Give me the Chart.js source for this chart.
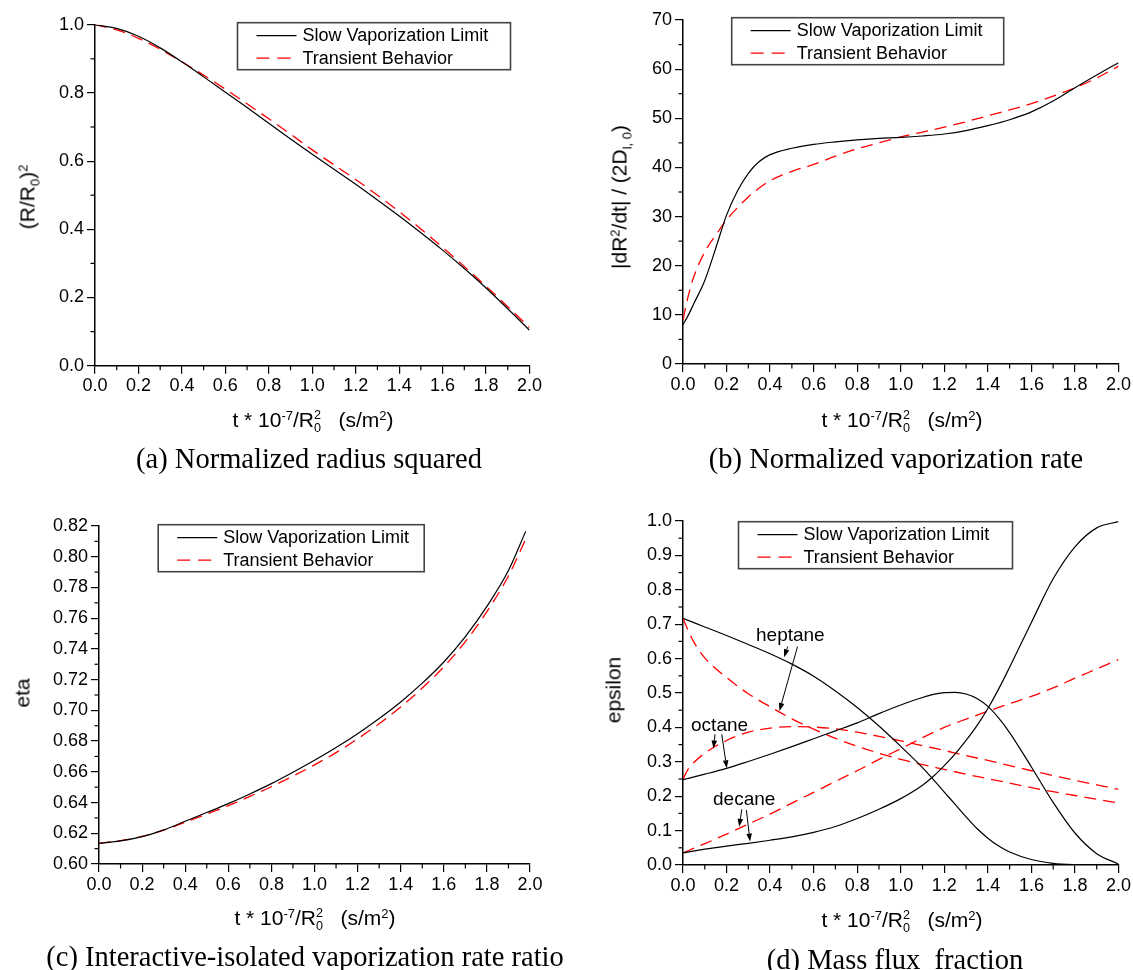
<!DOCTYPE html>
<html><head><meta charset="utf-8">
<script src="https://cdn.jsdelivr.net/npm/chart.js@4.4.1/dist/chart.umd.min.js"></script>
<style>
html,body{margin:0;padding:0;background:#fff;}
#wrap{position:relative;width:1133px;height:970px;overflow:hidden;background:#fff;}
canvas{position:absolute;left:0;top:0;}
.t{position:absolute;font-family:"Liberation Sans",Arial,sans-serif;font-size:21px;color:#000;white-space:nowrap;transform:translate(-50%,-50%);line-height:1;}
.r{transform:translate(-50%,-50%) rotate(-90deg);}
.cap{position:absolute;font-family:"Liberation Serif","Times New Roman",serif;font-size:28.5px;color:#000;white-space:nowrap;transform:translate(-50%,-50%);line-height:1;}
.sup{font-size:0.62em;vertical-align:0.55em;line-height:0;}
.sub{font-size:0.62em;vertical-align:-0.35em;line-height:0;}
.ss{display:inline-block;font-size:0.6em;line-height:1;vertical-align:-0.4em;text-align:left;}
</style>
</head><body>
<div id="wrap">
<canvas id="ca" width="1133" height="970"></canvas>
<canvas id="cb" width="1133" height="970"></canvas>
<canvas id="cc" width="1133" height="970"></canvas>
<canvas id="cd" width="1133" height="970"></canvas>

<div class="t r" style="left:27px;top:197px">(R/R<span class="sub">0</span>)<span class="sup">2</span></div>
<div class="t" style="left:313px;top:422px">t * 10<span class="sup">-7</span>/R<span class="ss">2<br>0</span>&nbsp;&nbsp; (s/m<span class="sup">2</span>)</div>
<div class="cap" style="left:309px;top:459px">(a) Normalized radius squared</div>

<div class="t r" style="left:619px;top:197px">|dR<span class="sup">2</span>/dt| / (2D<span class="sub">l, 0</span>)</div>
<div class="t" style="left:902px;top:422px">t * 10<span class="sup">-7</span>/R<span class="ss">2<br>0</span>&nbsp;&nbsp; (s/m<span class="sup">2</span>)</div>
<div class="cap" style="left:896px;top:459px">(b) Normalized vaporization rate</div>

<div class="t r" style="left:22px;top:693px">eta</div>
<div class="t" style="left:315px;top:920px">t * 10<span class="sup">-7</span>/R<span class="ss">2<br>0</span>&nbsp;&nbsp; (s/m<span class="sup">2</span>)</div>
<div class="cap" style="left:305px;top:957px">(c) Interactive-isolated vaporization rate ratio</div>

<div class="t r" style="left:613px;top:690px">epsilon</div>
<div class="t" style="left:902px;top:922px">t * 10<span class="sup">-7</span>/R<span class="ss">2<br>0</span>&nbsp;&nbsp; (s/m<span class="sup">2</span>)</div>
<div class="cap" style="left:895px;top:960px">(d) Mass flux&nbsp; fraction</div>
</div>
<script>
// ---------------- DATA ----------------
const LEGEND_LABELS = ['Slow Vaporization Limit', 'Transient Behavior'];

const X_TICKS = [0,0.2,0.4,0.6,0.8,1.0,1.2,1.4,1.6,1.8,2.0];
const X_MINOR = [0.1,0.3,0.5,0.7,0.9,1.1,1.3,1.5,1.7,1.9];

// (a) normalized radius squared
const A_Y_TICKS = [0,0.2,0.4,0.6,0.8,1.0];
const A_Y_MINOR = [0.1,0.3,0.5,0.7,0.9];
const T_A = [0,0.1,0.2,0.3,0.4,0.5,0.6,0.7,0.8,0.9,1.0,1.1,1.2,1.3,1.4,1.5,1.6,1.7,1.8,1.9,2.0];
const A_SLOW = [1.000,0.989,0.966,0.932,0.891,0.847,0.802,0.757,0.711,0.665,0.620,0.576,0.532,0.486,0.439,0.390,0.339,0.285,0.228,0.167,0.104];
const A_TRANS = [1.000,0.985,0.960,0.928,0.891,0.852,0.811,0.768,0.724,0.679,0.633,0.589,0.546,0.500,0.452,0.401,0.347,0.291,0.233,0.173,0.112];

// (b) normalized vaporization rate
const B_Y_TICKS = [0,10,20,30,40,50,60,70];
const B_Y_MINOR = [5,15,25,35,45,55,65];
const T_B = [0,0.025,0.05,0.1,0.15,0.2,0.25,0.3,0.35,0.4,0.5,0.6,0.7,0.8,0.9,1.0,1.1,1.2,1.3,1.4,1.5,1.6,1.7,1.8,1.9,2.0];
const B_SLOW = [8.0,10.0,12.3,17.0,23.5,30.3,35.2,38.8,41.2,42.6,43.9,44.7,45.2,45.6,45.9,46.1,46.4,46.8,47.5,48.5,49.7,51.3,53.5,56.2,58.8,61.3];
const B_TRANS = [9.0,14.0,17.8,22.8,26.2,29.3,31.8,34.0,35.8,37.3,39.2,40.6,42.3,43.8,45.0,46.2,47.2,48.2,49.3,50.5,51.7,53.0,54.5,56.2,58.2,60.6];

// (c) interactive-isolated vaporization rate ratio
const C_Y_TICKS = [0.60,0.62,0.64,0.66,0.68,0.70,0.72,0.74,0.76,0.78,0.80,0.82];
const C_Y_MINOR = [0.61,0.63,0.65,0.67,0.69,0.71,0.73,0.75,0.77,0.79,0.81];
const T_C = [0,0.1,0.2,0.3,0.4,0.5,0.6,0.7,0.8,0.9,1.0,1.1,1.2,1.3,1.4,1.5,1.6,1.7,1.8,1.9,1.98];
const C_SLOW = [0.6135,0.6150,0.6178,0.6222,0.6278,0.6335,0.6393,0.6456,0.6523,0.6597,0.6675,0.6758,0.6848,0.6947,0.7055,0.7177,0.7315,0.7480,0.7677,0.7910,0.8165];
const C_TRANS = [0.6135,0.6152,0.6180,0.6220,0.6272,0.6325,0.6380,0.6440,0.6503,0.6572,0.6645,0.6725,0.6815,0.6913,0.7022,0.7145,0.7283,0.7448,0.7643,0.7875,0.8115];

// (d) mass flux fraction
const D_Y_TICKS = [0,0.1,0.2,0.3,0.4,0.5,0.6,0.7,0.8,0.9,1.0];
const D_Y_MINOR = [0.05,0.15,0.25,0.35,0.45,0.55,0.65,0.75,0.85,0.95];
const T_D = [0,0.1,0.2,0.3,0.4,0.5,0.6,0.7,0.8,0.9,1.0,1.1,1.15,1.2,1.25,1.3,1.35,1.4,1.45,1.5,1.6,1.7,1.8,1.9,2.0];
const D_HEPTANE_SLOW = [0.717,0.692,0.667,0.641,0.614,0.584,0.549,0.506,0.458,0.404,0.345,0.283,0.248,0.212,0.176,0.140,0.106,0.078,0.055,0.038,0.016,0.005,0.001,0.000,0.000];
const D_OCTANE_SLOW  = [0.248,0.264,0.281,0.301,0.322,0.344,0.367,0.390,0.413,0.440,0.465,0.487,0.496,0.501,0.502,0.497,0.484,0.461,0.427,0.385,0.285,0.182,0.093,0.033,0.003];
const D_DECANE_SLOW  = [0.035,0.046,0.055,0.063,0.072,0.082,0.095,0.112,0.135,0.162,0.193,0.232,0.258,0.289,0.323,0.362,0.405,0.455,0.512,0.575,0.705,0.832,0.925,0.980,0.998];
const T_D_FINE = [0,0.025,0.05,0.1,0.2,0.3,0.4,0.5,0.6,0.7,0.8,0.9,1.0,1.1,1.2,1.3,1.4,1.5,1.6,1.7,1.8,1.9,2.0];
const D_HEPTANE_TRANS = [0.717,0.680,0.648,0.602,0.545,0.498,0.460,0.425,0.395,0.368,0.345,0.325,0.307,0.292,0.278,0.264,0.251,0.238,0.225,0.213,0.202,0.191,0.180];
const D_OCTANE_TRANS  = [0.250,0.280,0.298,0.325,0.362,0.386,0.398,0.402,0.401,0.396,0.386,0.374,0.361,0.347,0.333,0.318,0.304,0.289,0.274,0.260,0.246,0.233,0.220];
const D_DECANE_TRANS  = [0.035,0.042,0.049,0.062,0.090,0.119,0.148,0.180,0.211,0.243,0.274,0.307,0.338,0.370,0.400,0.424,0.447,0.469,0.490,0.515,0.543,0.570,0.597];

const D_LABELS = ['heptane','octane','decane'];
// annotation anchor points in data units: label centre, and two arrows (from -> tip)
const D_LABEL_POS = [[0.493,0.666],[0.168,0.405],[0.281,0.189]];
const D_ARROWS = [
  [[0.481,0.635],[0.464,0.604]], [[0.526,0.635],[0.443,0.448]],
  [[0.147,0.380],[0.140,0.339]], [[0.178,0.380],[0.201,0.281]],
  [[0.270,0.162],[0.258,0.111]], [[0.291,0.160],[0.308,0.068]]
];

// ---------------- RENDERING ----------------
const FONT = '"Liberation Sans", Arial, sans-serif';
const W = 1133, H = 970, YW = 70, XH = 40;

function pts(xs, ys){ return xs.map((x,i)=>({x:x, y:ys[i]})); }
function solid(xs, ys){ return {data:pts(xs,ys), borderColor:'#000', borderWidth:1.2, pointRadius:0, fill:false, cubicInterpolationMode:'monotone'}; }
function dashed(xs, ys){ return {data:pts(xs,ys), borderColor:'#ff0000', borderWidth:1.3, borderDash:[12,7], pointRadius:0, fill:false, cubicInterpolationMode:'monotone'}; }

function axis(ticksArr, dec, isX){
  return {
    type:'linear', min:ticksArr[0], max:ticksArr[ticksArr.length-1],
    afterBuildTicks: s => { s.ticks = ticksArr.map(v=>({value:v})); },
    afterFit: s => { if (isX) s.height = XH; else s.width = YW; },
    ticks:{ callback: v => Number(v).toFixed(dec), font:{family:FONT, size:18}, color:'#000', padding: isX?2:3, maxRotation:0, autoSkip:false },
    grid:{ drawOnChartArea:false, drawTicks:true, tickLength:8, color:'#000', lineWidth:1.2 },
    border:{ display:true, color:'#000', width:1.5 }
  };
}

const minorTicks = {
  id:'minorTicks',
  afterDraw(chart, args, o){
    const ctx = chart.ctx, xs = chart.scales.x, ys = chart.scales.y, a = chart.chartArea;
    ctx.save(); ctx.strokeStyle = '#000'; ctx.lineWidth = 1.2;
    (o.x||[]).forEach(v=>{ const p = xs.getPixelForValue(v); ctx.beginPath(); ctx.moveTo(p, a.bottom); ctx.lineTo(p, a.bottom+4.5); ctx.stroke(); });
    (o.y||[]).forEach(v=>{ const p = ys.getPixelForValue(v); ctx.beginPath(); ctx.moveTo(a.left, p); ctx.lineTo(a.left-4.5, p); ctx.stroke(); });
    ctx.restore();
  }
};

const boxLegend = {
  id:'boxLegend',
  afterDraw(chart, args, o){
    if (!o || o.dx === undefined) return;
    const ctx = chart.ctx, a = chart.chartArea;
    const L = a.left + o.dx, T = a.top + o.dy;
    ctx.save();
    ctx.fillStyle = '#fff'; ctx.fillRect(L, T, o.w, 47);
    ctx.strokeStyle = '#444'; ctx.lineWidth = 1.6; ctx.strokeRect(L, T, o.w, 47);
    const rows = [T+13, T+35.5];
    ctx.lineWidth = 1.2; ctx.strokeStyle = '#000'; ctx.setLineDash([]);
    ctx.beginPath(); ctx.moveTo(L+19, rows[0]); ctx.lineTo(L+59, rows[0]); ctx.stroke();
    ctx.strokeStyle = '#ff0000'; ctx.lineWidth = 1.3; ctx.setLineDash([13,8]);
    ctx.beginPath(); ctx.moveTo(L+19, rows[1]); ctx.lineTo(L+59, rows[1]); ctx.stroke();
    ctx.setLineDash([]);
    ctx.fillStyle = '#000'; ctx.font = '18px ' + FONT; ctx.textBaseline = 'middle'; ctx.textAlign = 'left';
    ctx.fillText(LEGEND_LABELS[0], L+65, rows[0]+0.5);
    ctx.fillText(LEGEND_LABELS[1], L+65, rows[1]+0.5);
    ctx.restore();
  }
};

const notes = {
  id:'notes',
  afterDraw(chart, args, o){
    if (!o || !o.on) return;
    const ctx = chart.ctx, xs = chart.scales.x, ys = chart.scales.y;
    const P = p => [xs.getPixelForValue(p[0]), ys.getPixelForValue(p[1])];
    ctx.save();
    ctx.fillStyle = '#000'; ctx.font = '19px ' + FONT; ctx.textAlign = 'center'; ctx.textBaseline = 'middle';
    D_LABELS.forEach((s,i)=>{ const q = P(D_LABEL_POS[i]); ctx.fillText(s, q[0], q[1]); });
    ctx.strokeStyle = '#000'; ctx.lineWidth = 1;
    D_ARROWS.forEach(ar=>{
      const f = P(ar[0]), t = P(ar[1]);
      const ang = Math.atan2(t[1]-f[1], t[0]-f[0]);
      const hl = 8, hw = 2.8;
      const bx = t[0] - hl*Math.cos(ang), by = t[1] - hl*Math.sin(ang);
      ctx.beginPath(); ctx.moveTo(f[0], f[1]); ctx.lineTo(bx, by); ctx.stroke();
      ctx.beginPath(); ctx.moveTo(t[0], t[1]);
      ctx.lineTo(bx + hw*Math.sin(ang), by - hw*Math.cos(ang));
      ctx.lineTo(bx - hw*Math.sin(ang), by + hw*Math.cos(ang));
      ctx.closePath(); ctx.fill();
    });
    ctx.restore();
  }
};

function make(id, area, yTicks, yMinor, yDec, datasets, legend, withNotes){
  new Chart(document.getElementById(id), {
    type:'line',
    data:{ datasets: datasets },
    options:{
      responsive:false, animation:false, devicePixelRatio:1, events:[],
      layout:{ padding:{ left: area.L - YW, top: area.T, right: W - area.R, bottom: H - area.B - XH } },
      scales:{ x: axis(X_TICKS, 1, true), y: axis(yTicks, yDec, false) },
      plugins:{ legend:{display:false}, tooltip:{enabled:false},
        minorTicks:{ x:X_MINOR, y:yMinor }, boxLegend: legend, notes:{ on: withNotes } }
    },
    plugins:[minorTicks, boxLegend, notes]
  });
}

make('ca', {L:95, T:24.7, R:529.5, B:365.7}, A_Y_TICKS, A_Y_MINOR, 1,
  [solid(T_A, A_SLOW), dashed(T_A, A_TRANS)], {dx:142.5, dy:-2, w:273}, false);
make('cb', {L:683, T:20, R:1121, B:364}, B_Y_TICKS, B_Y_MINOR, 0,
  [solid(T_B, B_SLOW), dashed(T_B, B_TRANS)], {dx:48.7, dy:-2.3, w:272}, false);
make('cc', {L:99, T:526, R:530, B:864}, C_Y_TICKS, C_Y_MINOR, 2,
  [solid(T_C, C_SLOW), dashed(T_C, C_TRANS)], {dx:59.2, dy:-1.3, w:266}, false);
make('cd', {L:683, T:521, R:1121, B:865}, D_Y_TICKS, D_Y_MINOR, 1,
  [solid(T_D, D_HEPTANE_SLOW), solid(T_D, D_OCTANE_SLOW), solid(T_D, D_DECANE_SLOW),
   dashed(T_D_FINE, D_HEPTANE_TRANS), dashed(T_D_FINE, D_OCTANE_TRANS), dashed(T_D_FINE, D_DECANE_TRANS)],
  {dx:55.5, dy:0.7, w:274}, true);
</script>
</body></html>
